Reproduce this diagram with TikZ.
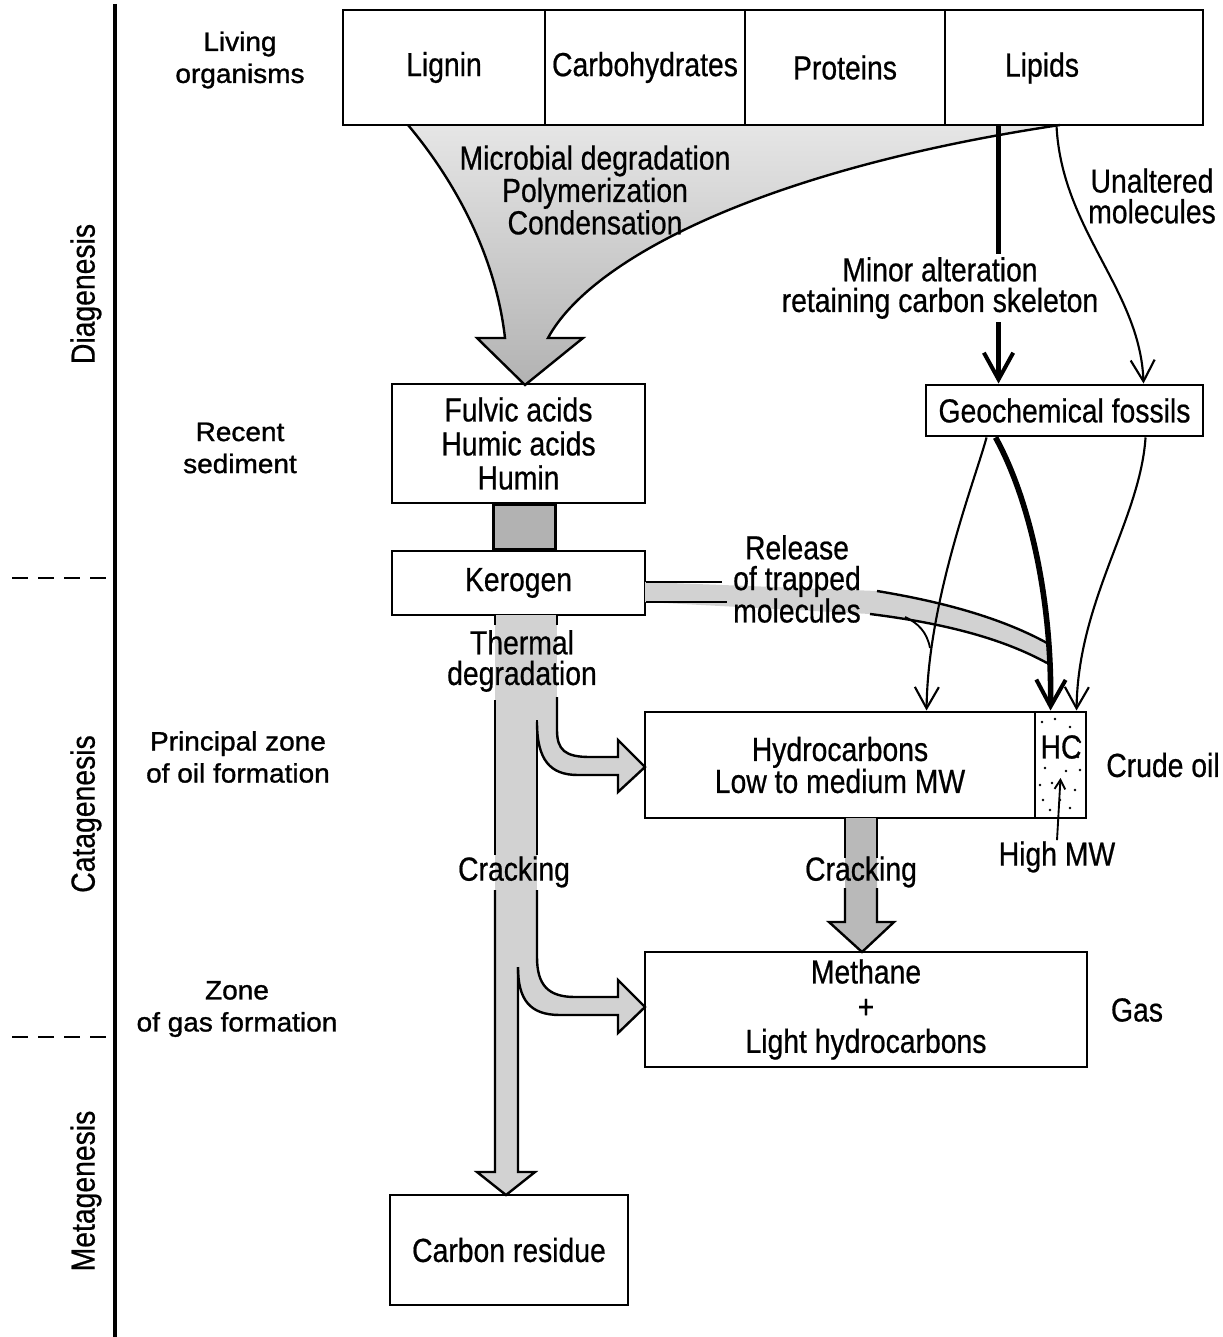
\documentclass[tikz,border=0pt]{standalone}
\usepackage{fontspec}
\setmainfont{Liberation Sans}[FakeStretch=0.85,FakeBold=0.6]
\newfontfamily\widefont{Liberation Sans}[FakeStretch=1.05,FakeBold=1.2]
\usetikzlibrary{arrows.meta,calc}

\begin{document}
\begin{tikzpicture}[x=0.75pt,y=0.75pt,yscale=-1,xscale=1,
  box/.style={draw,line width=2.2pt,inner sep=0pt,align=center,font=\fontsize{25}{25.5}\selectfont},
  txt/.style={inner sep=0.75pt,align=center,font=\fontsize{25}{23}\selectfont},
  zonetxt/.style={inner sep=0.75pt,align=center,font=\widefont\fontsize{20}{24}\selectfont},
  edge/.style={line width=1.8pt},
  thinarrow/.style={line width=1.6pt,-{Straight Barb[length=16pt,width=18pt,line width=1.6pt]}},
  fatarrow/.style={line width=4.2pt,-{Straight Barb[length=20pt,width=22pt,line width=3pt]}}]
\useasboundingbox (0,0) rectangle (1222,1337);

%Straight Lines: depth axis
\draw [line width=2.6pt] (115,4) -- (115,1337);
\draw [line width=1.8pt, dash pattern=on 12pt off 7.5pt] (12,578) -- (110,578);
\draw [line width=1.8pt, dash pattern=on 12pt off 7.5pt] (12,1037) -- (108,1037);

% Text Node
\node [txt, rotate=90] (diag) at (86,294) {Diagenesis};
% Text Node
\node [txt, rotate=90] (catag) at (86,814) {Catagenesis};
% Text Node
\node [txt, rotate=90] (metag) at (86,1191) {Metagenesis};
% Text Node
\node [zonetxt] (living) at (240,60) {Living\\organisms};
% Text Node
\node [zonetxt] (recent) at (240,448) {Recent\\sediment};
% Text Node
\node [zonetxt] (oilzone) at (238,757) {Principal zone\\of oil formation};
% Text Node
\node [zonetxt] (gaszone) at (237,1009) {Zone\\of gas formation};

%Shape: funnel arrow
\shade [top color=gray!20, bottom color=gray!60] (408,125) .. controls (450,175) and (495,250) .. (505,338) -- (477,338) -- (525,385) -- (583,338) -- (548,338) .. controls (590,260) and (760,170) .. (1060,125) -- cycle;
\draw [edge] (408,125) .. controls (450,175) and (495,250) .. (505,338) -- (477,338) -- (525,385) -- (583,338) -- (548,338) .. controls (590,260) and (760,170) .. (1060,125);

%Shape: Rectangle (living matter)
\node [box, minimum width=151.5pt, minimum height=86.25pt] (lignin) at (444,67.5) {Lignin};
\node [box, minimum width=150pt, minimum height=86.25pt] (carbo) at (645,67.5) {Carbohydrates};
\node [box, minimum width=150pt, minimum height=86.25pt] (prot) at (845,67.5) {Proteins};
\node [box, minimum width=193.5pt, minimum height=86.25pt] (lipids) at (1074,67.5) {};
% Text Node
\node [txt] (lipidstxt) at (1042,68) {Lipids};

% Text Node
\node [txt, font=\fontsize{25}{22.5}\selectfont] (microbial) at (595,190) {Microbial degradation\\Polymerization\\Condensation};

%Shape: Rectangle
\node [box, minimum width=189.75pt, minimum height=89.25pt] (fulvic) at (518.5,443.5) {Fulvic acids\\Humic acids\\Humin};
\node [box, minimum width=189.75pt, minimum height=48pt] (kerogen) at (518.5,583) {Kerogen};
\node [box, minimum width=207.75pt, minimum height=38.25pt] (geo) at (1064.5,410.5) {Geochemical fossils};
\node [box, minimum width=292.5pt, minimum height=79.5pt, font=\fontsize{25}{24}\selectfont] (hydro) at (840,765) {Hydrocarbons\\Low to medium MW};
\node [box, minimum width=38.25pt, minimum height=79.5pt] (hc) at (1060.5,765) {};
\node [box, minimum width=331.5pt, minimum height=86.25pt, font=\fontsize{25}{26}\selectfont] (methane) at (866,1009.5) {Methane\\+\\Light hydrocarbons};
\node [box, minimum width=178.5pt, minimum height=82.5pt] (carbon) at (509,1250) {Carbon residue};

% stippling of the heavy fraction
\foreach \p in {(1042,722),(1055,719),(1070,727),(1080,742),(1045,768),(1066,771),(1052,783),(1075,790),(1043,800),(1070,808),(1080,770),(1060,800),(1040,785),(1078,757),(1050,810)}
  \fill \p circle (1.4);
% Text Node
\node [txt] (hctxt) at (1061,747) {HC};

%Straight Lines: humic to kerogen
\draw [edge, fill=gray!60] ($(fulvic.south west)+(103,0)$) rectangle ($(kerogen.north west)+(165,0)$);

%Shape: release band
\fill [gray!35] (645,582) -- (877,591) .. controls (950,603) and (1005,620) .. (1047,643) -- (1047,663) .. controls (1005,640) and (950,624) .. (870,614) -- (645,602) -- cycle;
\draw [edge] (kerogen.east |- 0,582) -- (722,582);
\draw [edge] (kerogen.east |- 0,602) -- (727,602);
\draw [edge] (877,591) .. controls (950,603) and (1005,620) .. (1047,643);
\draw [edge] (870,614) .. controls (950,624) and (1005,640) .. (1047,663);
\draw [line width=1.4pt] (905,617) .. controls (918,623) and (927,632) .. (930,648);
% Text Node
\node [txt] (release) at (797,579) {Release\\of trapped\\molecules};

%Shape: thermal degradation and cracking
\fill [gray!35] (495,615) rectangle (557,735);
\fill [gray!35] (495,725) rectangle (537,960);
\fill [gray!35] (495,960) rectangle (518,1172);
\fill [gray!35] (557,730) .. controls (557,750) and (565,757) .. (590,757) -- (618,757) -- (618,740) -- (645,767) -- (618,792) -- (618,775) -- (578,775) .. controls (550,775) and (537,760) .. (537,725) -- cycle;
\fill [gray!35] (537,957) .. controls (537,985) and (548,997) .. (575,997) -- (618,997) -- (618,980) -- (645,1007) -- (618,1033) -- (618,1015) -- (560,1015) .. controls (530,1015) and (518,1000) .. (518,970) -- (518,957) -- cycle;
\fill [gray!35] (495,1172) -- (477,1172) -- (506,1195) -- (535,1172) -- (518,1172) -- cycle;
\draw [edge] (495,615) -- (495,625);
\draw [edge] (557,615) -- (557,625);
\draw [edge] (495,700) -- (495,855);
\draw [edge] (495,890) -- (495,1172) -- (477,1172) -- (506,1195) -- (535,1172) -- (518,1172) -- (518,967);
\draw [edge] (557,697) -- (557,730) .. controls (557,750) and (565,757) .. (590,757) -- (618,757) -- (618,740) -- (645,767) -- (618,792) -- (618,775) -- (578,775) .. controls (550,775) and (537,760) .. (537,722);
\draw [edge] (537,720) -- (537,855);
\draw [edge] (537,890) -- (537,957) .. controls (537,985) and (548,997) .. (575,997) -- (618,997) -- (618,980) -- (645,1007) -- (618,1033) -- (618,1015) -- (560,1015) .. controls (530,1015) and (518,1000) .. (518,967);
% Text Node
\node [txt] (thermal) at (522,661) {Thermal\\degradation};
% Text Node
\node [txt] (crack1) at (514,872) {Cracking};

%Shape: cracking of oil to gas
\fill [gray!55] (845,818) -- (845,922) -- (829,922) -- (862,952) -- (894,922) -- (877,922) -- (877,818) -- cycle;
\draw [edge] (845,818) -- (845,858);
\draw [edge] (845,888) -- (845,922) -- (829,922) -- (862,952) -- (894,922) -- (877,922) -- (877,888);
\draw [edge] (877,858) -- (877,818);
% Text Node
\node [txt] (crack2) at (861,872) {Cracking};

%Curve Lines: lipids to geochemical fossils
\draw [fatarrow] ($(lipids.south west)+(55,0)$) -- ($(geo.north west)+(74,0)$);
% Text Node
\node [txt, fill=white, inner sep=2pt] (minor) at (940,288) {Minor alteration\\retaining carbon skeleton};
\draw [thinarrow] ($(lipids.south west)+(113,0)$) .. controls (1062,230) and (1140,290) .. ($(geo.north west)+(219,0)$);
% Text Node
\node [txt] (unaltered) at (1152,196) {Unaltered\\molecules};

%Curve Lines: geochemical fossils to crude oil
\draw [thinarrow] ($(geo.south west)+(62,0)$) .. controls (975,480) and (928,600) .. ($(hydro.north west)+(283,0)$);
\draw [fatarrow] ($(geo.south west)+(71,0)$) .. controls (1030,500) and (1052,600) .. ($(hc.north west)+(17,0)$);
\draw [thinarrow] ($(geo.south west)+(221,0)$) .. controls (1140,520) and (1078,600) .. ($(hc.north west)+(43,0)$);

% Text Node
\node [txt] (highmw) at (1057,857) {High MW};
\draw [line width=1.4pt, -{Straight Barb[length=7pt,width=8pt]}] (highmw.north) -- ($(hc.center)+(0,13)$);
% Text Node
\node [txt] (crude) at (1163,765) {Crude oil};
% Text Node
\node [txt] (gas) at (1137,1010) {Gas};

\end{tikzpicture}
\end{document}
